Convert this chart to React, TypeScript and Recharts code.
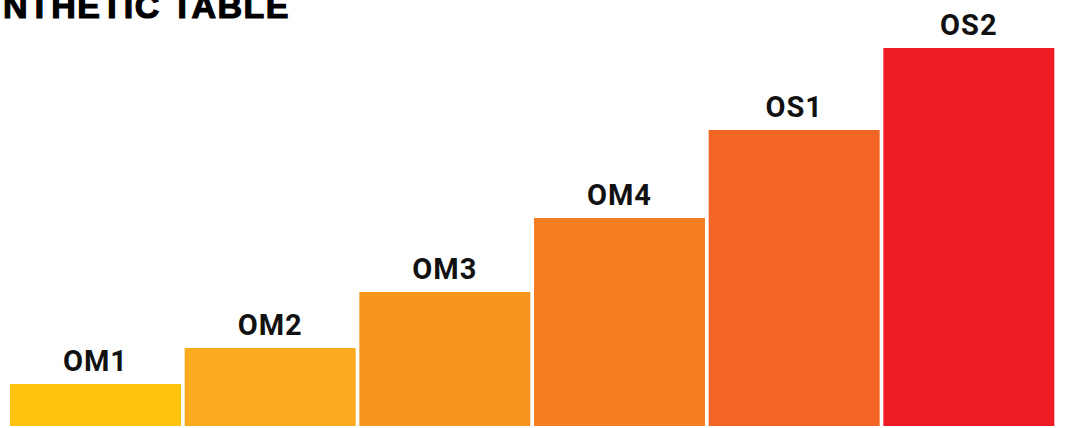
import React from 'react';
import { BarChart, Bar, Cell, XAxis, YAxis, LabelList } from 'recharts';

const categories = ['OM1', 'OM2', 'OM3', 'OM4', 'OS1', 'OS2'];
const values = [42, 78, 134, 208, 296, 378];
const colors = ['#FEC20F', '#FAAA1F', '#F7951F', '#F47E20', '#F26524', '#ED1C24'];

const data = categories.map((name, i) => ({ name, value: values[i] }));

export default function App() {
  return (
    <div style={{ position: 'absolute', left: 0, top: 0, width: 1065, height: 428, background: '#fff' }}>
      <BarChart
        width={1065}
        height={428}
        data={data}
        margin={{ top: 48, right: 9, bottom: 2, left: 8 }}
        barCategoryGap={2}
      >
        <XAxis dataKey="name" hide />
        <YAxis hide domain={[0, 'dataMax']} />
        <Bar dataKey="value" isAnimationActive={false}>
          {data.map((entry, index) => (
            <Cell key={`cell-${index}`} fill={colors[index]} />
          ))}
          <LabelList
            dataKey="name"
            position="top"
            offset={13}
            style={{ fontFamily: 'Roboto', fontWeight: 700, fontSize: 29, fill: '#111', letterSpacing: 1 }}
          />
        </Bar>
      </BarChart>
      {/* title is clipped at the left edge, as in the original */}
      <svg width={1065} height={40} style={{ position: 'absolute', left: 0, top: 0 }}>
        <text
          x={290}
          y={18}
          textAnchor="end"
          stroke="#000"
          strokeWidth={1.2}
          style={{ fontFamily: 'Liberation Sans', fontWeight: 700, fontSize: 34, fill: '#000', letterSpacing: 1.5 }}
        >
          SYNTHETIC TABLE
        </text>
      </svg>
    </div>
  );
}
